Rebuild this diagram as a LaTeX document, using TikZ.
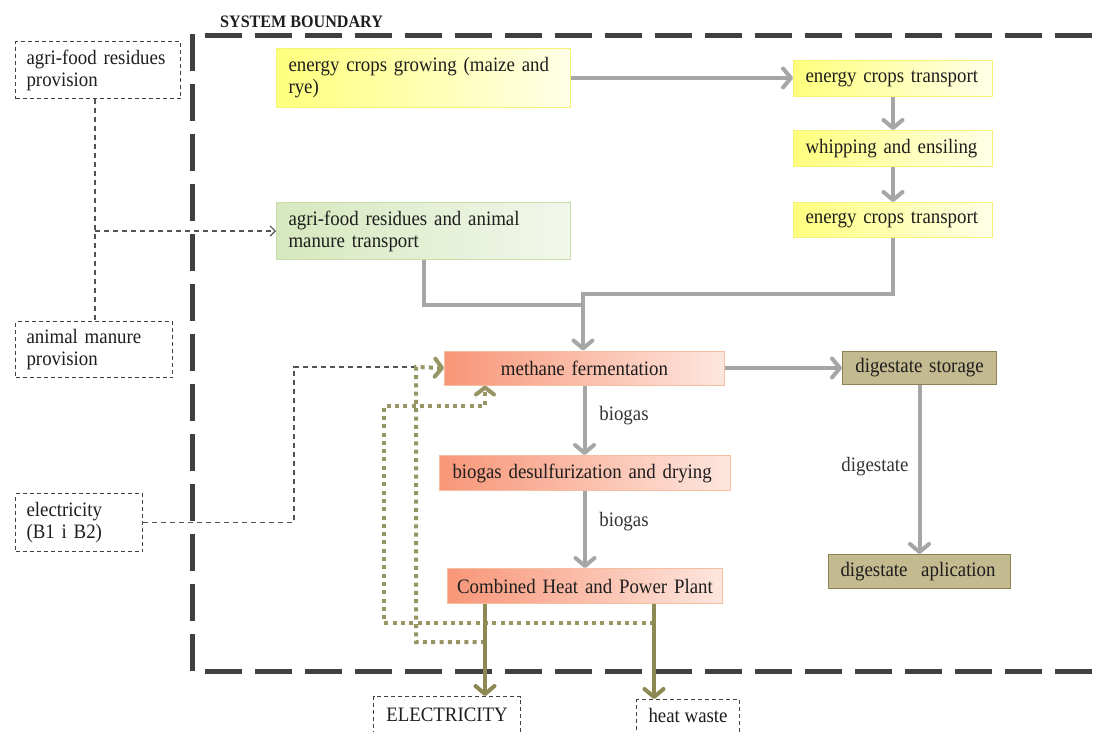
\documentclass[tikz,border=0pt]{standalone}
\usepackage{fontspec}
\setmainfont{Liberation Serif}[FakeStretch=0.92]
\usetikzlibrary{arrows.meta}
\definecolor{gcon}{HTML}{A6A6A6}
\definecolor{oliveC}{RGB}{140,137,82}
\definecolor{bnd}{HTML}{404040}
\definecolor{txtc}{HTML}{1E1E1E}
\definecolor{yL}{RGB}{255,255,125}
\definecolor{yR}{RGB}{255,255,232}
\definecolor{ybord}{RGB}{246,242,120}
\definecolor{gL}{RGB}{214,232,190}
\definecolor{gR}{RGB}{242,247,235}
\definecolor{gbord}{RGB}{200,222,170}
\definecolor{sL}{RGB}{248,150,120}
\definecolor{sR}{RGB}{253,230,222}
\definecolor{sbord}{RGB}{246,190,160}
\definecolor{tanF}{RGB}{196,186,143}
\definecolor{tanB}{RGB}{140,130,85}
\begin{document}
\begin{tikzpicture}[x=1pt,y=-1pt,
  txt/.style={font=\fontsize{20.5}{22}\selectfont, text=txtc},
  bx/.style={txt, anchor=north west, inner xsep=12pt, inner ysep=0pt, align=left},
  ybox/.style={bx, draw=ybord, line width=1pt, left color=yL, right color=yR},
  gbox/.style={bx, draw=gbord, line width=1pt, left color=gL, right color=gR},
  sbox/.style={bx, draw=sbord, line width=1pt, left color=sL, right color=sR},
  tbox/.style={bx, draw=tanB, line width=1pt, fill=tanF},
  dbox/.style={bx, draw=bnd, line width=1.1pt, dash pattern=on 4pt off 3pt, inner xsep=11pt},
  boundary/.style={draw=bnd, line width=5pt, dash pattern=on 37pt off 13pt},
  gline/.style={draw=gcon, line width=4pt},
  garrow/.style={gline, -{Straight Barb[length=8pt,width=19pt,round]}},
  thind/.style={draw=bnd!90, line width=1.2pt, dash pattern=on 5pt off 4pt},
  thinarrow/.style={thind, -{Straight Barb[length=5pt,width=10pt]}},
  odot/.style={draw=oliveC!90, line width=4pt, dash pattern=on 4pt off 4.3pt},
  odotarrow/.style={odot, -{Straight Barb[length=7pt,width=18pt,round]}},
  oarrow/.style={draw=oliveC, line width=4pt, -{Straight Barb[length=8pt,width=19pt,round]}},
  lbl/.style={txt, text=txtc!90}
]
\useasboundingbox (0,0) rectangle (1099,731);
\clip (0,0) rectangle (1099,731);
\fill[white] (0,0) rectangle (1099,731);

% system boundary
\draw[boundary, dash phase=37pt] (192,35) -- (1099,35);
\draw[boundary] (192,34) -- (192,671);
\draw[boundary, dash phase=37pt] (192,671) -- (1099,671);
\node[anchor=west, inner sep=0pt, font=\bfseries\fontsize{17.5}{19}\selectfont, text=txtc] (title) at (220,22) {SYSTEM BOUNDARY};

% boxes
\node[ybox, text width=270pt, minimum height=59pt] (grow) at (276,48) {energy crops growing (maize and\\rye)};
\node[ybox, text width=175pt, minimum height=36pt] (trans1) at (793,60) {energy crops transport};
\node[ybox, text width=175pt, minimum height=36pt] (whip) at (793,130) {whipping and ensiling};
\node[ybox, text width=175pt, minimum height=35pt] (trans2) at (793,202) {energy crops transport};
\node[gbox, text width=270pt, minimum height=57pt] (agritr) at (276,202) {agri-food residues and animal\\manure transport};
\node[sbox, inner xsep=4pt, text width=272pt, minimum height=34pt, align=center] (methane) at (444,350.5) {methane fermentation};
\node[sbox, inner xsep=13pt, text width=265pt, minimum height=35pt] (desulf) at (439,455) {biogas desulfurization and drying};
\node[sbox, inner xsep=4pt, text width=267pt, minimum height=35pt, align=center] (chp) at (447,568) {Combined Heat and Power Plant};
\node[tbox, inner xsep=4pt, text width=146pt, minimum height=33pt, align=center] (storage) at (842,351) {digestate storage};
\node[tbox, text width=158pt, minimum height=34pt] (aplic) at (828,554) {digestate\ \ aplication};

\node[dbox, text width=143pt, minimum height=57pt] (agriprov) at (15,41) {agri-food residues\\provision};
\node[dbox, text width=135pt, minimum height=56pt] (manureprov) at (15,321) {animal manure\\provision};
\node[dbox, text width=105pt, minimum height=58pt] (elecin) at (15,493) {electricity\\(B1 i B2)};
\node[txt, draw=bnd, line width=1.1pt, dash pattern=on 4pt off 3pt, anchor=north west, minimum width=147pt, inner ysep=5pt, text height=19.7pt, text depth=20pt] (elecout) at (373,696) {ELECTRICITY};
\node[txt, draw=bnd, line width=1.1pt, dash pattern=on 4pt off 3pt, anchor=north west, minimum width=103pt, inner ysep=5pt, text height=18pt, text depth=20pt] (heatout) at (636,699) {heat waste};

% junction coordinates
\coordinate (j1) at (583,294);
\coordinate (j2) at (583,305);
\coordinate (d1) at (95,231);
\coordinate (e2) at (294,367);
\coordinate (e3) at (416,367);
\coordinate (ex) at (485,0);
\coordinate (hx) at (654,0);
\coordinate (a1) at (485,642);
\coordinate (a2) at (416,642);
\coordinate (b1) at (654,623);
\coordinate (b2) at (384,623);
\coordinate (b3) at (384,406);
\coordinate (b4) at (485,406);

% gray flows
\draw[garrow] (grow.east) -- (grow.east -| trans1.west);
\draw[garrow] (trans1.south) -- (whip.north);
\draw[garrow] (whip.south) -- (trans2.north);
\draw[gline] (agritr.south) |- (j2);
\draw[garrow] (trans2.south) |- (j1) -- (j1 |- methane.north);
\draw[garrow] (methane.east) -- (methane.east -| storage.west);
\draw[garrow] (methane.south) -- (methane.south |- desulf.north);
\draw[garrow] (desulf.south) -- (desulf.south |- chp.north);
\draw[garrow] (storage.south) -- (storage.south |- aplic.north);
\node[lbl] (bg1) at (624,416) {biogas};
\node[lbl] (bg2) at (624,522) {biogas};
\node[lbl] (dg) at (875,467) {digestate};

% thin dashed inputs
\draw[thind] (agriprov.south -| d1) -- (manureprov.north -| d1);
\draw[thinarrow] (d1) -- (d1 -| agritr.west);
\draw[thind] (elecin.east) -| (e2) -- (e3);

% olive dotted internal loops
\draw[odotarrow] (a1) -- (a2) -- (e3) -- (methane.west);
\draw[odotarrow] (b1) -- (b2) -- (b3) -- (b4) -- (b4 |- methane.south);

% olive outputs
\draw[oarrow] (chp.south -| ex) -- (elecout.north -| ex);
\draw[oarrow] (chp.south -| hx) -- (heatout.north -| hx);
\end{tikzpicture}
\end{document}
